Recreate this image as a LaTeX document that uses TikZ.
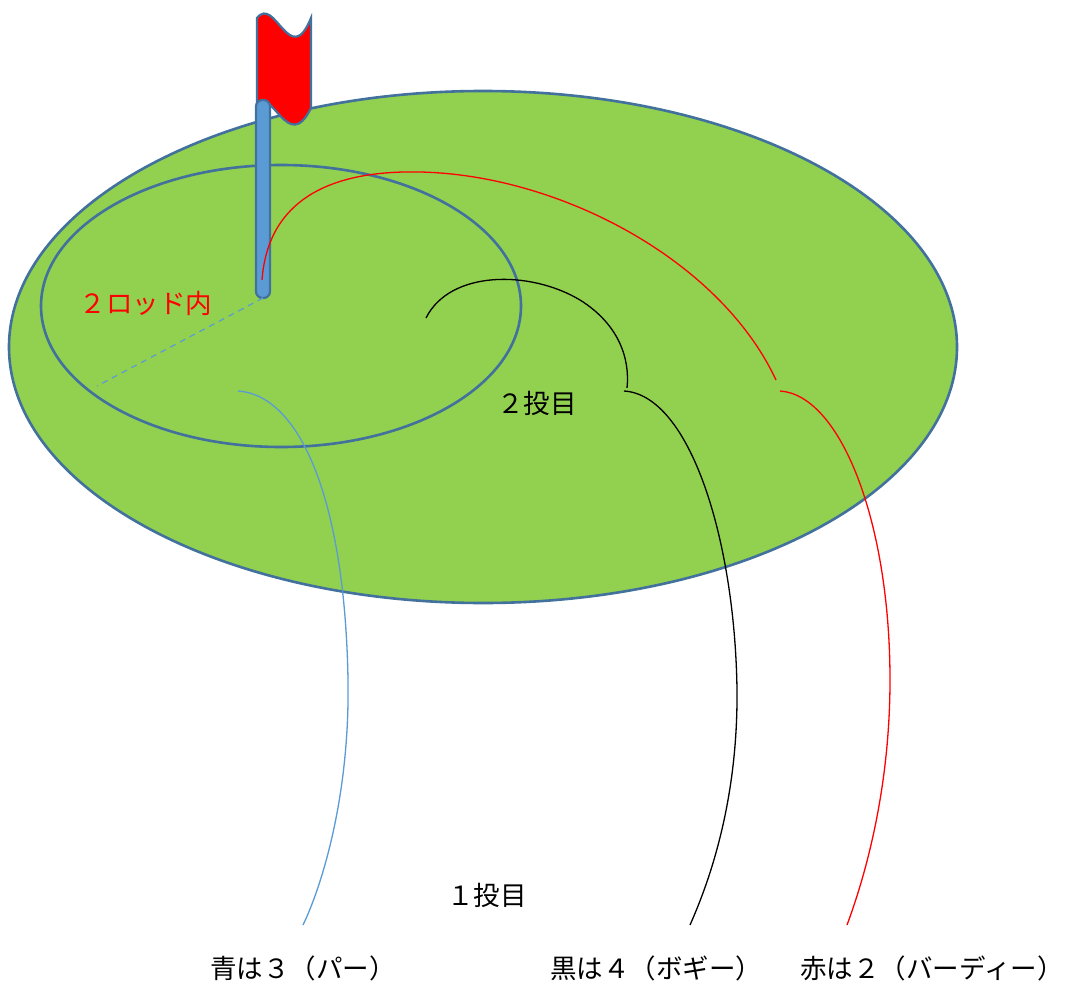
\documentclass[tikz,border=0pt]{standalone}
\usepackage{fontspec}
\newfontfamily\jp{Noto Sans CJK JP}
\definecolor{turf}{HTML}{92D050}
\definecolor{rimblue}{HTML}{41719C}
\definecolor{poleblue}{HTML}{5B9BD5}
\definecolor{flagred}{HTML}{FF0000}
\begin{document}
\begin{tikzpicture}[x=1pt,y=-1pt,
  rim/.style={draw=rimblue,line width=2.6pt},
  putt/.style={line width=1.3pt},
  label/.style={font=\jp\fontsize{26.5}{31}\selectfont,inner sep=0pt}]
\useasboundingbox (0,0) rectangle (1069,985);
\fill[white] (0,0) rectangle (1069,985);

% the green
\draw[rim,fill=turf] (483,347) ellipse [x radius=474pt,y radius=256pt];
% two-rod circle round the cup
\draw[rim] (281,306) ellipse [x radius=240pt,y radius=141pt];

% flag and pole
\draw[draw=rimblue,line width=2.2pt,fill=flagred]
  (257,18) .. controls (275,-5) and (290,70) .. (311,18)
  -- (311,108) .. controls (288,155) and (272,85) .. (257,105) -- cycle;
\draw[rim,line width=2.2pt,fill=poleblue,rounded corners=6.5pt] (256,100) rectangle (270,298);
\coordinate (cup) at (263,298);
\coordinate (rimpt) at (97,386);
\draw[poleblue,line width=1.2pt,dash pattern=on 6pt off 5pt] (cup) -- (rimpt);

% red: birdie
\coordinate (r0) at (262,280);
\coordinate (r1) at (776,380);
\coordinate (r2) at (780,391);
\coordinate (r3) at (847,925);
\draw[flagred,putt] (r0) .. controls (268,200) and (330,170) .. (420,172)
  .. controls (560,175) and (720,260) .. (r1);
\draw[flagred,putt] (r3) .. controls (860,890) and (890,800) .. (890,680)
  .. controls (890,520) and (840,395) .. (r2);

% black: bogey
\coordinate (k0) at (426,318);
\coordinate (k1) at (627,388);
\coordinate (k2) at (624,391);
\coordinate (k3) at (690,925);
\draw[black,putt] (k0) .. controls (450,270) and (530,270) .. (580,300)
  .. controls (620,325) and (630,360) .. (k1);
\draw[black,putt] (k3) .. controls (710,880) and (738,800) .. (737,690)
  .. controls (735,540) and (690,395) .. (k2);

% blue: par
\coordinate (b0) at (238,391);
\coordinate (b1) at (303,925);
\draw[poleblue,putt] (b1) .. controls (320,890) and (350,800) .. (348,680)
  .. controls (345,500) and (300,395) .. (b0);

% labels
\node[label,text=flagred] (tworod) at (146,303) {２ロッド内};
\node[label] (second) at (537,403) {２投目};
\node[label] (first) at (487,895) {１投目};
\node[label] (par) at (303,968) {青は３（パー）};
\node[label] (bogey) at (656,968) {黒は４（ボギー）};
\node[label] (birdie) at (932,968) {赤は２（バーディー）};
\end{tikzpicture}
\end{document}
